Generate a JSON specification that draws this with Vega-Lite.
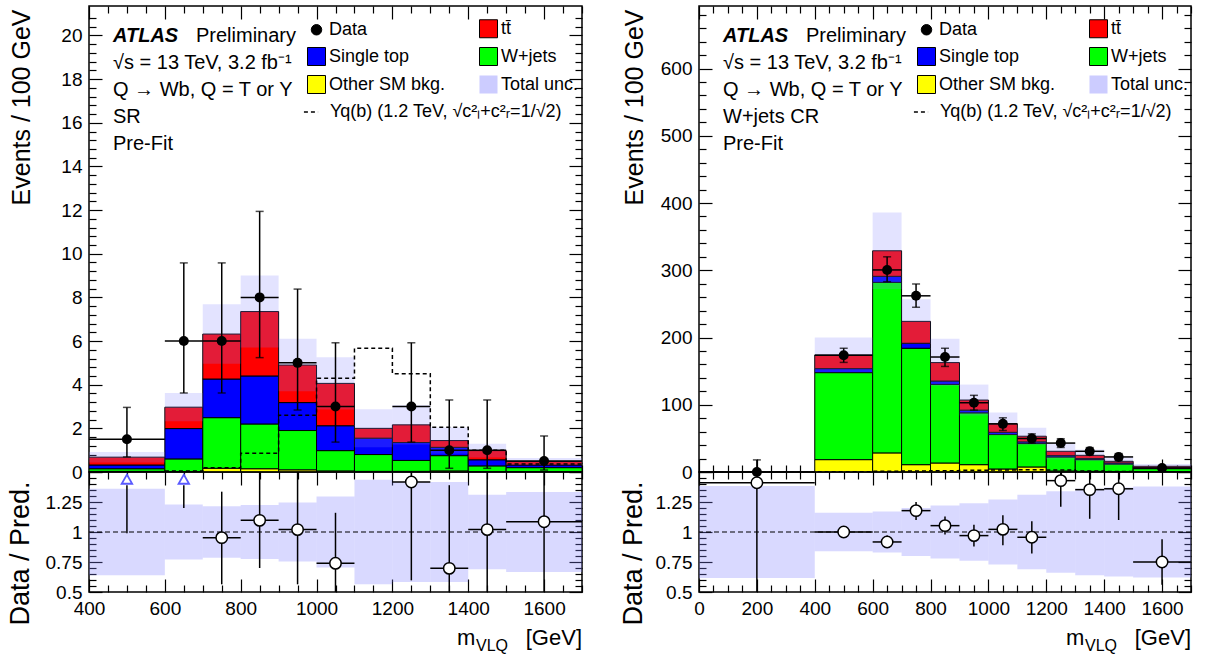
{
"$schema": "https://vega.github.io/schema/vega-lite/v6.json",
"background": "white",
"padding": {"left": 5, "right": 5, "top": 4, "bottom": 0},
"config": {
 "view": {"stroke": "black", "strokeWidth": 1.5},
 "concat": {"spacing": 0},
 "axis": {"labelFont": "Liberation Sans", "titleFont": "Liberation Sans", "labelColor": "black", "titleColor": "black", "tickColor": "black", "tickWidth": 1.2, "domain": false, "grid": false, "labelFontSize": 19, "titleFontWeight": "normal", "labelOverlap": false, "labelFlush": false, "labelBound": false},
 "legend": {"labelFont": "Liberation Sans", "labelColor": "black"},
 "text": {"font": "Liberation Sans"}
},
"datasets": {
 "sr_stack": [
  {"lo":400,"hi":600,"proc":"Other SM bkg.","k":1,"v":0.03},{"lo":400,"hi":600,"proc":"W+jets","k":2,"v":0.12},{"lo":400,"hi":600,"proc":"Single top","k":3,"v":0.17},{"lo":400,"hi":600,"proc":"tt\u0304","k":4,"v":0.36},
  {"lo":600,"hi":700,"proc":"Other SM bkg.","k":1,"v":0.02},{"lo":600,"hi":700,"proc":"W+jets","k":2,"v":0.58},{"lo":600,"hi":700,"proc":"Single top","k":3,"v":1.39},{"lo":600,"hi":700,"proc":"tt\u0304","k":4,"v":0.98},
  {"lo":700,"hi":800,"proc":"Other SM bkg.","k":1,"v":0.17},{"lo":700,"hi":800,"proc":"W+jets","k":2,"v":2.32},{"lo":700,"hi":800,"proc":"Single top","k":3,"v":1.77},{"lo":700,"hi":800,"proc":"tt\u0304","k":4,"v":2.06},
  {"lo":800,"hi":900,"proc":"Other SM bkg.","k":1,"v":0.15},{"lo":800,"hi":900,"proc":"W+jets","k":2,"v":2.05},{"lo":800,"hi":900,"proc":"Single top","k":3,"v":2.2},{"lo":800,"hi":900,"proc":"tt\u0304","k":4,"v":2.95},
  {"lo":900,"hi":1000,"proc":"Other SM bkg.","k":1,"v":0.1},{"lo":900,"hi":1000,"proc":"W+jets","k":2,"v":1.8},{"lo":900,"hi":1000,"proc":"Single top","k":3,"v":1.28},{"lo":900,"hi":1000,"proc":"tt\u0304","k":4,"v":1.72},
  {"lo":1000,"hi":1100,"proc":"Other SM bkg.","k":1,"v":0.05},{"lo":1000,"hi":1100,"proc":"W+jets","k":2,"v":0.93},{"lo":1000,"hi":1100,"proc":"Single top","k":3,"v":1.14},{"lo":1000,"hi":1100,"proc":"tt\u0304","k":4,"v":1.94},
  {"lo":1100,"hi":1200,"proc":"Other SM bkg.","k":1,"v":0.03},{"lo":1100,"hi":1200,"proc":"W+jets","k":2,"v":0.77},{"lo":1100,"hi":1200,"proc":"Single top","k":3,"v":0.75},{"lo":1100,"hi":1200,"proc":"tt\u0304","k":4,"v":0.45},
  {"lo":1200,"hi":1300,"proc":"Other SM bkg.","k":1,"v":0.03},{"lo":1200,"hi":1300,"proc":"W+jets","k":2,"v":0.5},{"lo":1200,"hi":1300,"proc":"Single top","k":3,"v":0.82},{"lo":1200,"hi":1300,"proc":"tt\u0304","k":4,"v":0.81},
  {"lo":1300,"hi":1400,"proc":"Other SM bkg.","k":1,"v":0.05},{"lo":1300,"hi":1400,"proc":"W+jets","k":2,"v":0.7},{"lo":1300,"hi":1400,"proc":"Single top","k":3,"v":0.38},{"lo":1300,"hi":1400,"proc":"tt\u0304","k":4,"v":0.31},
  {"lo":1400,"hi":1500,"proc":"Other SM bkg.","k":1,"v":0.02},{"lo":1400,"hi":1500,"proc":"W+jets","k":2,"v":0.26},{"lo":1400,"hi":1500,"proc":"Single top","k":3,"v":0.28},{"lo":1400,"hi":1500,"proc":"tt\u0304","k":4,"v":0.42},
  {"lo":1500,"hi":1700,"proc":"Other SM bkg.","k":1,"v":0.02},{"lo":1500,"hi":1700,"proc":"W+jets","k":2,"v":0.18},{"lo":1500,"hi":1700,"proc":"Single top","k":3,"v":0.12},{"lo":1500,"hi":1700,"proc":"tt\u0304","k":4,"v":0.16}
 ],
 "sr_band": [
  {"lo":400,"hi":600,"dn":0.44,"up":0.92},{"lo":600,"hi":700,"dn":2.32,"up":3.62},{"lo":700,"hi":800,"dn":4.96,"up":7.68},{"lo":800,"hi":900,"dn":5.7,"up":9.0},{"lo":900,"hi":1000,"dn":3.7,"up":6.1},{"lo":1000,"hi":1100,"dn":2.86,"up":5.26},{"lo":1100,"hi":1200,"dn":1.13,"up":2.87},{"lo":1200,"hi":1300,"dn":1.26,"up":3.06},{"lo":1300,"hi":1400,"dn":0.84,"up":2.04},{"lo":1400,"hi":1500,"dn":0.66,"up":1.3},{"lo":1500,"hi":1700,"dn":0.32,"up":0.64}
 ],
 "sr_sig": [
  {"lo":400,"v":0,"s":"Yq(b) (1.2 TeV, √c²ₗ+c²ᵣ=1/√2)"},{"lo":600,"v":0.05,"s":"Yq(b) (1.2 TeV, √c²ₗ+c²ᵣ=1/√2)"},{"lo":700,"v":0.2,"s":"Yq(b) (1.2 TeV, √c²ₗ+c²ᵣ=1/√2)"},{"lo":800,"v":0.86,"s":"Yq(b) (1.2 TeV, √c²ₗ+c²ᵣ=1/√2)"},{"lo":900,"v":2.6,"s":"Yq(b) (1.2 TeV, √c²ₗ+c²ᵣ=1/√2)"},{"lo":1000,"v":4.3,"s":"Yq(b) (1.2 TeV, √c²ₗ+c²ᵣ=1/√2)"},{"lo":1100,"v":5.67,"s":"Yq(b) (1.2 TeV, √c²ₗ+c²ᵣ=1/√2)"},{"lo":1200,"v":4.5,"s":"Yq(b) (1.2 TeV, √c²ₗ+c²ᵣ=1/√2)"},{"lo":1300,"v":2.05,"s":"Yq(b) (1.2 TeV, √c²ₗ+c²ᵣ=1/√2)"},{"lo":1400,"v":1.0,"s":"Yq(b) (1.2 TeV, √c²ₗ+c²ᵣ=1/√2)"},{"lo":1500,"v":0.37,"s":"Yq(b) (1.2 TeV, √c²ₗ+c²ᵣ=1/√2)"},{"lo":1700,"v":0.37,"s":"Yq(b) (1.2 TeV, √c²ₗ+c²ᵣ=1/√2)"}
 ],
 "sr_data": [
  {"x":500,"lo":400,"hi":600,"y":1.5,"elo":0.69,"ehi":2.96},{"x":650,"lo":600,"hi":700,"y":6,"elo":3.62,"ehi":9.58},{"x":750,"lo":700,"hi":800,"y":6,"elo":3.62,"ehi":9.58},{"x":850,"lo":800,"hi":900,"y":8,"elo":5.24,"ehi":11.94},{"x":950,"lo":900,"hi":1000,"y":5,"elo":2.84,"ehi":8.38},{"x":1050,"lo":1000,"hi":1100,"y":3,"elo":1.37,"ehi":5.92},{"x":1250,"lo":1200,"hi":1300,"y":3,"elo":1.37,"ehi":5.92},{"x":1350,"lo":1300,"hi":1400,"y":1,"elo":0.17,"ehi":3.3},{"x":1450,"lo":1400,"hi":1500,"y":1,"elo":0.17,"ehi":3.3},{"x":1600,"lo":1500,"hi":1700,"y":0.5,"elo":0.09,"ehi":1.65}
 ],
 "sr_ratio": [
  {"x":750,"lo":700,"hi":800,"r":0.953,"rlo":0.564,"rhi":1.336},{"x":850,"lo":800,"hi":900,"r":1.097,"rlo":0.7,"rhi":1.62},{"x":950,"lo":900,"hi":1000,"r":1.02,"rlo":0.564,"rhi":1.72},{"x":1050,"lo":1000,"hi":1100,"r":0.739,"rlo":0.34,"rhi":1.16},{"x":1250,"lo":1200,"hi":1300,"r":1.417,"rlo":0.597,"rhi":2.7},{"x":1350,"lo":1300,"hi":1400,"r":0.697,"rlo":0.12,"rhi":1.39},{"x":1450,"lo":1400,"hi":1500,"r":1.02,"rlo":0.17,"rhi":3.3},{"x":1600,"lo":1500,"hi":1700,"r":1.086,"rlo":0.18,"rhi":3.4}
 ],
 "sr_arrow": [{"x":500,"lo":0.99},{"x":650,"lo":1.2}],
 "sr_rband": [
  {"lo":400,"hi":600,"dn":0.64,"up":1.36},{"lo":600,"hi":700,"dn":0.77,"up":1.23},{"lo":700,"hi":800,"dn":0.785,"up":1.215},{"lo":800,"hi":900,"dn":0.775,"up":1.225},{"lo":900,"hi":1000,"dn":0.755,"up":1.245},{"lo":1000,"hi":1100,"dn":0.705,"up":1.295},{"lo":1100,"hi":1200,"dn":0.565,"up":1.435},{"lo":1200,"hi":1300,"dn":0.583,"up":1.417},{"lo":1300,"hi":1400,"dn":0.583,"up":1.417},{"lo":1400,"hi":1500,"dn":0.69,"up":1.31},{"lo":1500,"hi":1700,"dn":0.667,"up":1.333}
 ],
 "cr_stack": [
  {"lo":400,"hi":600,"proc":"Other SM bkg.","k":1,"v":18.4},{"lo":400,"hi":600,"proc":"W+jets","k":2,"v":129.4},{"lo":400,"hi":600,"proc":"Single top","k":3,"v":5.9},{"lo":400,"hi":600,"proc":"tt\u0304","k":4,"v":20.3},
  {"lo":600,"hi":700,"proc":"Other SM bkg.","k":1,"v":28.4},{"lo":600,"hi":700,"proc":"W+jets","k":2,"v":253.6},{"lo":600,"hi":700,"proc":"Single top","k":3,"v":9},{"lo":600,"hi":700,"proc":"tt\u0304","k":4,"v":38},
  {"lo":700,"hi":800,"proc":"Other SM bkg.","k":1,"v":10.9},{"lo":700,"hi":800,"proc":"W+jets","k":2,"v":173.1},{"lo":700,"hi":800,"proc":"Single top","k":3,"v":7.5},{"lo":700,"hi":800,"proc":"tt\u0304","k":4,"v":32.5},
  {"lo":800,"hi":900,"proc":"Other SM bkg.","k":1,"v":13.4},{"lo":800,"hi":900,"proc":"W+jets","k":2,"v":116.9},{"lo":800,"hi":900,"proc":"Single top","k":3,"v":5},{"lo":800,"hi":900,"proc":"tt\u0304","k":4,"v":27.4},
  {"lo":900,"hi":1000,"proc":"Other SM bkg.","k":1,"v":10.9},{"lo":900,"hi":1000,"proc":"W+jets","k":2,"v":77.1},{"lo":900,"hi":1000,"proc":"Single top","k":3,"v":4},{"lo":900,"hi":1000,"proc":"tt\u0304","k":4,"v":15},
  {"lo":1000,"hi":1100,"proc":"Other SM bkg.","k":1,"v":4.5},{"lo":1000,"hi":1100,"proc":"W+jets","k":2,"v":51.2},{"lo":1000,"hi":1100,"proc":"Single top","k":3,"v":3.3},{"lo":1000,"hi":1100,"proc":"tt\u0304","k":4,"v":12.6},
  {"lo":1100,"hi":1200,"proc":"Other SM bkg.","k":1,"v":7.5},{"lo":1100,"hi":1200,"proc":"W+jets","k":2,"v":34.8},{"lo":1100,"hi":1200,"proc":"Single top","k":3,"v":2.5},{"lo":1100,"hi":1200,"proc":"tt\u0304","k":4,"v":8.4},
  {"lo":1200,"hi":1300,"proc":"Other SM bkg.","k":1,"v":1.5},{"lo":1200,"hi":1300,"proc":"W+jets","k":2,"v":20.9},{"lo":1200,"hi":1300,"proc":"Single top","k":3,"v":2},{"lo":1200,"hi":1300,"proc":"tt\u0304","k":4,"v":6.4},
  {"lo":1300,"hi":1400,"proc":"Other SM bkg.","k":1,"v":1},{"lo":1300,"hi":1400,"proc":"W+jets","k":2,"v":17.4},{"lo":1300,"hi":1400,"proc":"Single top","k":3,"v":1.5},{"lo":1300,"hi":1400,"proc":"tt\u0304","k":4,"v":4.9},
  {"lo":1400,"hi":1500,"proc":"Other SM bkg.","k":1,"v":0.8},{"lo":1400,"hi":1500,"proc":"W+jets","k":2,"v":11.1},{"lo":1400,"hi":1500,"proc":"Single top","k":3,"v":1.5},{"lo":1400,"hi":1500,"proc":"tt\u0304","k":4,"v":2.5},
  {"lo":1500,"hi":1700,"proc":"Other SM bkg.","k":1,"v":0.5},{"lo":1500,"hi":1700,"proc":"W+jets","k":2,"v":4.5},{"lo":1500,"hi":1700,"proc":"Single top","k":3,"v":1},{"lo":1500,"hi":1700,"proc":"tt\u0304","k":4,"v":2.5}
 ],
 "cr_band": [
  {"lo":400,"hi":600,"dn":148,"up":200},{"lo":600,"hi":700,"dn":272,"up":386},{"lo":700,"hi":800,"dn":191,"up":257},{"lo":800,"hi":900,"dn":128,"up":198},{"lo":900,"hi":1000,"dn":84,"up":130},{"lo":1000,"hi":1100,"dn":54.6,"up":88.6},{"lo":1100,"hi":1200,"dn":40.7,"up":65.7},{"lo":1200,"hi":1300,"dn":18.8,"up":42.8},{"lo":1300,"hi":1400,"dn":16.3,"up":33.3},{"lo":1400,"hi":1500,"dn":9.9,"up":21.9},{"lo":1500,"hi":1700,"dn":5.2,"up":11.8}
 ],
 "cr_sig": [
  {"lo":0,"v":0,"s":"Yq(b) (1.2 TeV, √c²ₗ+c²ᵣ=1/√2)"},{"lo":400,"v":0.5,"s":"Yq(b) (1.2 TeV, √c²ₗ+c²ᵣ=1/√2)"},{"lo":600,"v":1,"s":"Yq(b) (1.2 TeV, √c²ₗ+c²ᵣ=1/√2)"},{"lo":700,"v":1.5,"s":"Yq(b) (1.2 TeV, √c²ₗ+c²ᵣ=1/√2)"},{"lo":800,"v":2,"s":"Yq(b) (1.2 TeV, √c²ₗ+c²ᵣ=1/√2)"},{"lo":900,"v":2.5,"s":"Yq(b) (1.2 TeV, √c²ₗ+c²ᵣ=1/√2)"},{"lo":1000,"v":3,"s":"Yq(b) (1.2 TeV, √c²ₗ+c²ᵣ=1/√2)"},{"lo":1100,"v":3.5,"s":"Yq(b) (1.2 TeV, √c²ₗ+c²ᵣ=1/√2)"},{"lo":1200,"v":3,"s":"Yq(b) (1.2 TeV, √c²ₗ+c²ᵣ=1/√2)"},{"lo":1300,"v":1.5,"s":"Yq(b) (1.2 TeV, √c²ₗ+c²ᵣ=1/√2)"},{"lo":1400,"v":0.8,"s":"Yq(b) (1.2 TeV, √c²ₗ+c²ᵣ=1/√2)"},{"lo":1500,"v":0.3,"s":"Yq(b) (1.2 TeV, √c²ₗ+c²ᵣ=1/√2)"},{"lo":1700,"v":0.3,"s":"Yq(b) (1.2 TeV, √c²ₗ+c²ᵣ=1/√2)"}
 ],
 "cr_data": [
  {"x":200,"lo":0,"hi":400,"y":0,"elo":0,"ehi":18},{"x":500,"lo":400,"hi":600,"y":173.6,"elo":163,"ehi":184},{"x":650,"lo":600,"hi":700,"y":300.5,"elo":283,"ehi":320},{"x":750,"lo":700,"hi":800,"y":262,"elo":245,"ehi":279.6},{"x":850,"lo":800,"hi":900,"y":171,"elo":157,"ehi":184},{"x":950,"lo":900,"hi":1000,"y":103,"elo":92,"ehi":114},{"x":1050,"lo":1000,"hi":1100,"y":71.6,"elo":61.7,"ehi":80.6},{"x":1150,"lo":1100,"hi":1200,"y":49.8,"elo":43,"ehi":56.7},{"x":1250,"lo":1200,"hi":1300,"y":43,"elo":36.5,"ehi":49.5},{"x":1350,"lo":1300,"hi":1400,"y":30.8,"elo":25.3,"ehi":36.3},{"x":1450,"lo":1400,"hi":1500,"y":22.4,"elo":17.4,"ehi":27.4},{"x":1600,"lo":1500,"hi":1700,"y":6,"elo":4.3,"ehi":7.8}
 ],
 "cr_ratio": [
  {"x":200,"lo":0,"hi":400,"r":1.41,"rlo":0.3,"rhi":2.0},{"x":500,"lo":400,"hi":600,"r":1.0,"rlo":0.97,"rhi":1.03},{"x":650,"lo":600,"hi":700,"r":0.917,"rlo":0.87,"rhi":0.97},{"x":750,"lo":700,"hi":800,"r":1.178,"rlo":1.1,"rhi":1.25},{"x":850,"lo":800,"hi":900,"r":1.053,"rlo":0.98,"rhi":1.13},{"x":950,"lo":900,"hi":1000,"r":0.97,"rlo":0.88,"rhi":1.06},{"x":1050,"lo":1000,"hi":1100,"r":1.022,"rlo":0.89,"rhi":1.14},{"x":1150,"lo":1100,"hi":1200,"r":0.956,"rlo":0.82,"rhi":1.09},{"x":1250,"lo":1200,"hi":1300,"r":1.428,"rlo":1.21,"rhi":1.65},{"x":1350,"lo":1300,"hi":1400,"r":1.353,"rlo":1.11,"rhi":1.6},{"x":1450,"lo":1400,"hi":1500,"r":1.36,"rlo":1.1,"rhi":1.6},{"x":1600,"lo":1500,"hi":1700,"r":0.75,"rlo":0.56,"rhi":0.94}
 ],
 "cr_rband": [
  {"lo":0,"hi":400,"dn":0.617,"up":1.383},{"lo":400,"hi":600,"dn":0.84,"up":1.16},{"lo":600,"hi":700,"dn":0.83,"up":1.17},{"lo":700,"hi":800,"dn":0.8,"up":1.2},{"lo":800,"hi":900,"dn":0.78,"up":1.22},{"lo":900,"hi":1000,"dn":0.76,"up":1.24},{"lo":1000,"hi":1100,"dn":0.73,"up":1.27},{"lo":1100,"hi":1200,"dn":0.69,"up":1.31},{"lo":1200,"hi":1300,"dn":0.66,"up":1.34},{"lo":1300,"hi":1400,"dn":0.64,"up":1.36},{"lo":1400,"hi":1500,"dn":0.63,"up":1.37},{"lo":1500,"hi":1700,"dn":0.62,"up":1.38}
 ]
},
"resolve": {"scale": {"x": "independent", "y": "independent", "fill": "independent", "strokeDash": "independent"}},
"spacing": 34,
"hconcat": [
 {
  "spacing": 0,
  "bounds": "flush",
  "resolve": {"scale": {"x": "independent", "y": "independent", "fill": "independent", "strokeDash": "independent"}},
  "vconcat": [
   {
    "width": 493, "height": 466,
    "resolve": {"axis": {"x": "independent", "y": "independent"}},
    "layer": [
     {
      "data": {"name": "sr_stack"},
      "transform": [{"stack": "v", "groupby": ["lo"], "sort": [{"field": "k", "order": "ascending"}], "as": ["y0", "y1"]}],
      "mark": {"type": "rect", "stroke": "black", "strokeWidth": 1, "clip": true},
      "encoding": {
       "x": {"field": "lo", "type": "quantitative", "scale": {"domain": [400, 1700], "nice": false, "zero": false},
             "axis": {"orient": "bottom", "values": [400,450,500,550,600,650,700,750,800,850,900,950,1000,1050,1100,1150,1200,1250,1300,1350,1400,1450,1500,1550,1600,1650,1700], "labels": false, "title": null, "minExtent": 0, "maxExtent": 0, "tickSize": {"condition": {"test": "datum.value % 200 === 0", "value": -13}, "value": -7}}},
       "x2": {"field": "hi"},
       "y": {"field": "y0", "type": "quantitative", "scale": {"domain": [0, 21.35], "nice": false, "zero": false},
             "axis": {"orient": "left", "values": [0,0.4,0.8,1.2,1.6,2,2.4,2.8,3.2,3.6,4,4.4,4.8,5.2,5.6,6,6.4,6.8,7.2,7.6,8,8.4,8.8,9.2,9.6,10,10.4,10.8,11.2,11.6,12,12.4,12.8,13.2,13.6,14,14.4,14.8,15.2,15.6,16,16.4,16.8,17.2,17.6,18,18.4,18.8,19.2,19.6,20,20.4,20.8],
                      "labelExpr": "abs(datum.value/2 - round(datum.value/2)) < 0.001 ? '' + round(datum.value) : ''", "labelPadding": 20,
                      "title": "Events / 100 GeV", "titleFontSize": 25, "titleAnchor": "end", "titleX": -55, "titleY": 3,
                      "tickSize": {"condition": {"test": "abs(datum.value/2 - round(datum.value/2)) < 0.001", "value": -13}, "value": -7}}},
       "y2": {"field": "y1"},
       "fill": {"field": "proc", "type": "nominal",
                "scale": {"domain": ["Data", "tt\u0304", "Single top", "W+jets", "Other SM bkg.", "Total unc."], "range": ["#000000", "#ff0000", "#0000ff", "#00ff00", "#ffff00", "#8080ff"]},
                "legend": {"orient": "none", "legendX": 218, "legendY": 13, "columns": 2, "direction": "horizontal", "title": null, "padding": 0, "labelFontSize": 18, "labelOffset": 3, "symbolSize": 324, "symbolType": "square", "symbolStrokeColor": "black", "symbolStrokeWidth": 1, "columnPadding": 31, "rowPadding": 5, "symbolOpacity": 1,
                           "encode": {"symbols": {"update": {
                             "shape": {"signal": "datum.value === 'Data' ? 'circle' : 'square'"},
                             "size": {"signal": "datum.value === 'Data' ? 110 : 324"},
                             "stroke": {"signal": "datum.value === 'Total unc.' ? 'transparent' : 'black'"},
                             "fillOpacity": {"signal": "datum.value === 'Total unc.' ? 0.4 : 1"}}}}}}
      }
     },
     {
      "data": {"name": "sr_band"},
      "mark": {"type": "rect", "fill": "#8080ff", "fillOpacity": 0.22, "clip": true},
      "encoding": {
       "x": {"field": "lo", "type": "quantitative", "axis": {"orient": "top", "values": [400,450,500,550,600,650,700,750,800,850,900,950,1000,1050,1100,1150,1200,1250,1300,1350,1400,1450,1500,1550,1600,1650,1700], "labels": false, "title": null, "minExtent": 0, "maxExtent": 0, "tickSize": {"condition": {"test": "datum.value % 200 === 0", "value": -13}, "value": -7}}},
       "x2": {"field": "hi"},
       "y": {"field": "dn", "type": "quantitative", "axis": {"orient": "right", "values": [0,0.4,0.8,1.2,1.6,2,2.4,2.8,3.2,3.6,4,4.4,4.8,5.2,5.6,6,6.4,6.8,7.2,7.6,8,8.4,8.8,9.2,9.6,10,10.4,10.8,11.2,11.6,12,12.4,12.8,13.2,13.6,14,14.4,14.8,15.2,15.6,16,16.4,16.8,17.2,17.6,18,18.4,18.8,19.2,19.6,20,20.4,20.8], "labels": false, "title": null, "minExtent": 0, "maxExtent": 0, "tickSize": {"condition": {"test": "abs(datum.value/2 - round(datum.value/2)) < 0.001", "value": -13}, "value": -7}}},
       "y2": {"field": "up"}
      }
     },
     {
      "data": {"name": "sr_sig"},
      "mark": {"type": "line", "interpolate": "step-after", "stroke": "black", "strokeWidth": 1.5, "clip": true},
      "encoding": {
       "x": {"field": "lo", "type": "quantitative", "axis": null},
       "y": {"field": "v", "type": "quantitative", "axis": null},
       "strokeDash": {"field": "s", "type": "nominal", "scale": {"range": [[4, 3]]},
                      "legend": {"orient": "none", "legendX": 213, "legendY": 97, "title": null, "padding": 0, "labelFontSize": 18, "labelOffset": 10, "labelLimit": 1000, "symbolType": "stroke", "symbolSize": 200, "symbolStrokeColor": "black", "symbolStrokeWidth": 1.5}}
      }
     },
     {
      "data": {"name": "sr_data"},
      "mark": {"type": "rule", "stroke": "black", "strokeWidth": 1.5},
      "encoding": {"x": {"field": "x", "type": "quantitative", "axis": null}, "y": {"field": "elo", "type": "quantitative", "axis": null}, "y2": {"field": "ehi"}}
     },
     {
      "data": {"name": "sr_data"},
      "mark": {"type": "rule", "stroke": "black", "strokeWidth": 1.5},
      "encoding": {"x": {"field": "lo", "type": "quantitative", "axis": null}, "x2": {"field": "hi"}, "y": {"field": "y", "type": "quantitative", "axis": null}}
     },
     {
      "data": {"name": "sr_data"},
      "mark": {"type": "tick", "orient": "horizontal", "color": "black", "size": 8, "thickness": 1.5},
      "encoding": {"x": {"field": "x", "type": "quantitative", "axis": null}, "y": {"field": "ehi", "type": "quantitative", "axis": null}}
     },
     {
      "data": {"name": "sr_data"},
      "mark": {"type": "tick", "orient": "horizontal", "color": "black", "size": 8, "thickness": 1.5},
      "encoding": {"x": {"field": "x", "type": "quantitative", "axis": null}, "y": {"field": "elo", "type": "quantitative", "axis": null}}
     },
     {
      "data": {"name": "sr_data"},
      "mark": {"type": "point", "shape": "circle", "filled": true, "color": "black", "size": 100, "opacity": 1},
      "encoding": {"x": {"field": "x", "type": "quantitative", "axis": null}, "y": {"field": "y", "type": "quantitative", "axis": null}}
     },
     {"data": {"values": [{}]}, "mark": {"type": "text", "text": "ATLAS", "x": 24, "y": 36, "align": "left", "baseline": "alphabetic", "fontSize": 20, "fontWeight": "bold", "fontStyle": "italic", "fill": "black"}, "encoding": {}},
     {"data": {"values": [{}]}, "mark": {"type": "text", "text": "Preliminary", "x": 107, "y": 36, "align": "left", "baseline": "alphabetic", "fontSize": 20, "fill": "black"}, "encoding": {}},
     {"data": {"values": [{}]}, "mark": {"type": "text", "text": ["√s = 13 TeV, 3.2 fb⁻¹", "Q → Wb, Q = T or Y", "SR", "Pre-Fit"], "lineHeight": 27, "x": 24, "y": 63, "align": "left", "baseline": "alphabetic", "fontSize": 20, "fill": "black"}, "encoding": {}}
    ]
   },
   {
    "width": 493, "height": 120,
    "resolve": {"axis": {"x": "independent", "y": "independent"}},
    "layer": [
     {
      "data": {"name": "sr_rband"},
      "mark": {"type": "rect", "fill": "#8080ff", "fillOpacity": 0.3, "clip": true},
      "encoding": {
       "x": {"field": "lo", "type": "quantitative", "scale": {"domain": [400, 1700], "nice": false, "zero": false},
             "axis": {"orient": "bottom", "values": [400,450,500,550,600,650,700,750,800,850,900,950,1000,1050,1100,1150,1200,1250,1300,1350,1400,1450,1500,1550,1600,1650,1700], "labelExpr": "datum.value % 200 === 0 ? '' + datum.value : ''", "labelPadding": 20, "title": null, "tickSize": {"condition": {"test": "datum.value % 200 === 0", "value": -13}, "value": -7}}},
       "x2": {"field": "hi"},
       "y": {"field": "dn", "type": "quantitative", "scale": {"domain": [0.5, 1.5], "nice": false, "zero": false},
             "axis": {"orient": "left", "values": [0.5,0.55,0.6,0.65,0.7,0.75,0.8,0.85,0.9,0.95,1,1.05,1.1,1.15,1.2,1.25,1.3,1.35,1.4,1.45,1.5], "labelExpr": "abs(datum.value*4 - round(datum.value*4)) < 0.001 && datum.value < 1.4 ? '' + datum.value : ''", "labelPadding": 20,
                      "title": "Data / Pred.", "titleFontSize": 27, "titleX": -55, "titleY": 81, "titleAnchor": "middle",
                      "tickSize": {"condition": {"test": "abs(datum.value*4 - round(datum.value*4)) < 0.001", "value": -13}, "value": -7}}},
       "y2": {"field": "up"}
      }
     },
     {
      "data": {"values": [{}]},
      "mark": {"type": "rule", "stroke": "black", "strokeWidth": 1.2, "strokeDash": [5, 3]},
      "encoding": {"y": {"datum": 1, "type": "quantitative", "axis": {"orient": "right", "values": [0.5,0.55,0.6,0.65,0.7,0.75,0.8,0.85,0.9,0.95,1,1.05,1.1,1.15,1.2,1.25,1.3,1.35,1.4,1.45,1.5], "labels": false, "title": null, "minExtent": 0, "maxExtent": 0, "tickSize": {"condition": {"test": "abs(datum.value*4 - round(datum.value*4)) < 0.001", "value": -13}, "value": -7}}}}
     },
     {
      "data": {"name": "sr_ratio"},
      "mark": {"type": "rule", "stroke": "black", "strokeWidth": 1.5, "clip": true},
      "encoding": {"x": {"field": "x", "type": "quantitative", "axis": {"orient": "top", "values": [400,450,500,550,600,650,700,750,800,850,900,950,1000,1050,1100,1150,1200,1250,1300,1350,1400,1450,1500,1550,1600,1650,1700], "labels": false, "title": null, "minExtent": 0, "maxExtent": 0, "tickSize": {"condition": {"test": "datum.value % 200 === 0", "value": -13}, "value": -7}}}, "y": {"field": "rlo", "type": "quantitative", "axis": null}, "y2": {"field": "rhi"}}
     },
     {
      "data": {"name": "sr_ratio"},
      "mark": {"type": "rule", "stroke": "black", "strokeWidth": 1.5, "clip": true},
      "encoding": {"x": {"field": "lo", "type": "quantitative", "axis": null}, "x2": {"field": "hi"}, "y": {"field": "r", "type": "quantitative", "axis": null}}
     },
     {
      "data": {"name": "sr_arrow"},
      "mark": {"type": "rule", "stroke": "black", "strokeWidth": 1.5, "clip": true},
      "encoding": {"x": {"field": "x", "type": "quantitative", "axis": null}, "y": {"field": "lo", "type": "quantitative", "axis": null}, "y2": {"datum": 1.39}}
     },
     {
      "data": {"name": "sr_arrow"},
      "mark": {"type": "point", "shape": "triangle-up", "filled": false, "stroke": "#5a5aff", "fill": "white", "strokeWidth": 1.8, "size": 110, "opacity": 1},
      "encoding": {"x": {"field": "x", "type": "quantitative", "axis": null}, "y": {"datum": 1.44, "type": "quantitative", "axis": null}}
     },
     {
      "data": {"name": "sr_ratio"},
      "mark": {"type": "point", "shape": "circle", "filled": false, "fill": "white", "stroke": "black", "strokeWidth": 1.5, "size": 130, "opacity": 1, "fillOpacity": 1, "clip": true},
      "encoding": {"x": {"field": "x", "type": "quantitative", "axis": null}, "y": {"field": "r", "type": "quantitative", "axis": null}}
     },
     {"data": {"values": [{}]}, "mark": {"type": "text", "text": "m", "x": 368, "y": 173, "align": "left", "baseline": "alphabetic", "fontSize": 22, "fill": "black"}, "encoding": {}},
     {"data": {"values": [{}]}, "mark": {"type": "text", "text": "VLQ", "x": 387, "y": 179, "align": "left", "baseline": "alphabetic", "fontSize": 16, "fill": "black"}, "encoding": {}},
     {"data": {"values": [{}]}, "mark": {"type": "text", "text": "[GeV]", "x": 493, "y": 173, "align": "right", "baseline": "alphabetic", "fontSize": 22, "fill": "black"}, "encoding": {}}
    ]
   }
  ]
 },
 {
  "spacing": 0,
  "bounds": "flush",
  "resolve": {"scale": {"x": "independent", "y": "independent", "fill": "independent", "strokeDash": "independent"}},
  "vconcat": [
   {
    "width": 492, "height": 466,
    "resolve": {"axis": {"x": "independent", "y": "independent"}},
    "layer": [
     {
      "data": {"name": "cr_stack"},
      "transform": [{"stack": "v", "groupby": ["lo"], "sort": [{"field": "k", "order": "ascending"}], "as": ["y0", "y1"]}],
      "mark": {"type": "rect", "stroke": "black", "strokeWidth": 1, "clip": true},
      "encoding": {
       "x": {"field": "lo", "type": "quantitative", "scale": {"domain": [0, 1700], "nice": false, "zero": false},
             "axis": {"orient": "bottom", "values": [0,50,100,150,200,250,300,350,400,450,500,550,600,650,700,750,800,850,900,950,1000,1050,1100,1150,1200,1250,1300,1350,1400,1450,1500,1550,1600,1650,1700], "labels": false, "title": null, "minExtent": 0, "maxExtent": 0, "tickSize": {"condition": {"test": "datum.value % 200 === 0", "value": -13}, "value": -7}}},
       "x2": {"field": "hi"},
       "y": {"field": "y0", "type": "quantitative", "scale": {"domain": [0, 693], "nice": false, "zero": false},
             "axis": {"orient": "left", "values": [0,20,40,60,80,100,120,140,160,180,200,220,240,260,280,300,320,340,360,380,400,420,440,460,480,500,520,540,560,580,600,620,640,660,680],
                      "labelExpr": "datum.value % 100 === 0 ? '' + datum.value : ''", "labelPadding": 20,
                      "title": "Events / 100 GeV", "titleFontSize": 25, "titleAnchor": "end", "titleX": -52, "titleY": 3,
                      "tickSize": {"condition": {"test": "datum.value % 100 === 0", "value": -13}, "value": -7}}},
       "y2": {"field": "y1"},
       "fill": {"field": "proc", "type": "nominal",
                "scale": {"domain": ["Data", "tt\u0304", "Single top", "W+jets", "Other SM bkg.", "Total unc."], "range": ["#000000", "#ff0000", "#0000ff", "#00ff00", "#ffff00", "#8080ff"]},
                "legend": {"orient": "none", "legendX": 218, "legendY": 13, "columns": 2, "direction": "horizontal", "title": null, "padding": 0, "labelFontSize": 18, "labelOffset": 3, "symbolSize": 324, "symbolType": "square", "symbolStrokeColor": "black", "symbolStrokeWidth": 1, "columnPadding": 31, "rowPadding": 5, "symbolOpacity": 1,
                           "encode": {"symbols": {"update": {
                             "shape": {"signal": "datum.value === 'Data' ? 'circle' : 'square'"},
                             "size": {"signal": "datum.value === 'Data' ? 110 : 324"},
                             "stroke": {"signal": "datum.value === 'Total unc.' ? 'transparent' : 'black'"},
                             "fillOpacity": {"signal": "datum.value === 'Total unc.' ? 0.4 : 1"}}}}}}
      }
     },
     {
      "data": {"name": "cr_band"},
      "mark": {"type": "rect", "fill": "#8080ff", "fillOpacity": 0.22, "clip": true},
      "encoding": {
       "x": {"field": "lo", "type": "quantitative", "axis": {"orient": "top", "values": [0,50,100,150,200,250,300,350,400,450,500,550,600,650,700,750,800,850,900,950,1000,1050,1100,1150,1200,1250,1300,1350,1400,1450,1500,1550,1600,1650,1700], "labels": false, "title": null, "minExtent": 0, "maxExtent": 0, "tickSize": {"condition": {"test": "datum.value % 200 === 0", "value": -13}, "value": -7}}},
       "x2": {"field": "hi"},
       "y": {"field": "dn", "type": "quantitative", "axis": {"orient": "right", "values": [0,20,40,60,80,100,120,140,160,180,200,220,240,260,280,300,320,340,360,380,400,420,440,460,480,500,520,540,560,580,600,620,640,660,680], "labels": false, "title": null, "minExtent": 0, "maxExtent": 0, "tickSize": {"condition": {"test": "datum.value % 100 === 0", "value": -13}, "value": -7}}},
       "y2": {"field": "up"}
      }
     },
     {
      "data": {"name": "cr_sig"},
      "mark": {"type": "line", "interpolate": "step-after", "stroke": "black", "strokeWidth": 1.5, "clip": true},
      "encoding": {
       "x": {"field": "lo", "type": "quantitative", "axis": null},
       "y": {"field": "v", "type": "quantitative", "axis": null},
       "strokeDash": {"field": "s", "type": "nominal", "scale": {"range": [[4, 3]]},
                      "legend": {"orient": "none", "legendX": 213, "legendY": 97, "title": null, "padding": 0, "labelFontSize": 18, "labelOffset": 10, "labelLimit": 1000, "symbolType": "stroke", "symbolSize": 200, "symbolStrokeColor": "black", "symbolStrokeWidth": 1.5}}
      }
     },
     {
      "data": {"name": "cr_data"},
      "mark": {"type": "rule", "stroke": "black", "strokeWidth": 1.5},
      "encoding": {"x": {"field": "x", "type": "quantitative", "axis": null}, "y": {"field": "elo", "type": "quantitative", "axis": null}, "y2": {"field": "ehi"}}
     },
     {
      "data": {"name": "cr_data"},
      "mark": {"type": "rule", "stroke": "black", "strokeWidth": 1.5},
      "encoding": {"x": {"field": "lo", "type": "quantitative", "axis": null}, "x2": {"field": "hi"}, "y": {"field": "y", "type": "quantitative", "axis": null}}
     },
     {
      "data": {"name": "cr_data"},
      "mark": {"type": "tick", "orient": "horizontal", "color": "black", "size": 8, "thickness": 1.5},
      "encoding": {"x": {"field": "x", "type": "quantitative", "axis": null}, "y": {"field": "ehi", "type": "quantitative", "axis": null}}
     },
     {
      "data": {"name": "cr_data"},
      "mark": {"type": "tick", "orient": "horizontal", "color": "black", "size": 8, "thickness": 1.5},
      "encoding": {"x": {"field": "x", "type": "quantitative", "axis": null}, "y": {"field": "elo", "type": "quantitative", "axis": null}}
     },
     {
      "data": {"name": "cr_data"},
      "mark": {"type": "point", "shape": "circle", "filled": true, "color": "black", "size": 100, "opacity": 1},
      "encoding": {"x": {"field": "x", "type": "quantitative", "axis": null}, "y": {"field": "y", "type": "quantitative", "axis": null}}
     },
     {"data": {"values": [{}]}, "mark": {"type": "text", "text": "ATLAS", "x": 24, "y": 36, "align": "left", "baseline": "alphabetic", "fontSize": 20, "fontWeight": "bold", "fontStyle": "italic", "fill": "black"}, "encoding": {}},
     {"data": {"values": [{}]}, "mark": {"type": "text", "text": "Preliminary", "x": 107, "y": 36, "align": "left", "baseline": "alphabetic", "fontSize": 20, "fill": "black"}, "encoding": {}},
     {"data": {"values": [{}]}, "mark": {"type": "text", "text": ["√s = 13 TeV, 3.2 fb⁻¹", "Q → Wb, Q = T or Y", "W+jets CR", "Pre-Fit"], "lineHeight": 27, "x": 24, "y": 63, "align": "left", "baseline": "alphabetic", "fontSize": 20, "fill": "black"}, "encoding": {}}
    ]
   },
   {
    "width": 492, "height": 120,
    "resolve": {"axis": {"x": "independent", "y": "independent"}},
    "layer": [
     {
      "data": {"name": "cr_rband"},
      "mark": {"type": "rect", "fill": "#8080ff", "fillOpacity": 0.3, "clip": true},
      "encoding": {
       "x": {"field": "lo", "type": "quantitative", "scale": {"domain": [0, 1700], "nice": false, "zero": false},
             "axis": {"orient": "bottom", "values": [0,50,100,150,200,250,300,350,400,450,500,550,600,650,700,750,800,850,900,950,1000,1050,1100,1150,1200,1250,1300,1350,1400,1450,1500,1550,1600,1650,1700], "labelExpr": "datum.value % 200 === 0 ? '' + datum.value : ''", "labelPadding": 20, "title": null, "tickSize": {"condition": {"test": "datum.value % 200 === 0", "value": -13}, "value": -7}}},
       "x2": {"field": "hi"},
       "y": {"field": "dn", "type": "quantitative", "scale": {"domain": [0.5, 1.5], "nice": false, "zero": false},
             "axis": {"orient": "left", "values": [0.5,0.55,0.6,0.65,0.7,0.75,0.8,0.85,0.9,0.95,1,1.05,1.1,1.15,1.2,1.25,1.3,1.35,1.4,1.45,1.5], "labelExpr": "abs(datum.value*4 - round(datum.value*4)) < 0.001 && datum.value < 1.4 ? '' + datum.value : ''", "labelPadding": 20,
                      "title": "Data / Pred.", "titleFontSize": 27, "titleX": -52, "titleY": 81, "titleAnchor": "middle",
                      "tickSize": {"condition": {"test": "abs(datum.value*4 - round(datum.value*4)) < 0.001", "value": -13}, "value": -7}}},
       "y2": {"field": "up"}
      }
     },
     {
      "data": {"values": [{}]},
      "mark": {"type": "rule", "stroke": "black", "strokeWidth": 1.2, "strokeDash": [5, 3]},
      "encoding": {"y": {"datum": 1, "type": "quantitative", "axis": {"orient": "right", "values": [0.5,0.55,0.6,0.65,0.7,0.75,0.8,0.85,0.9,0.95,1,1.05,1.1,1.15,1.2,1.25,1.3,1.35,1.4,1.45,1.5], "labels": false, "title": null, "minExtent": 0, "maxExtent": 0, "tickSize": {"condition": {"test": "abs(datum.value*4 - round(datum.value*4)) < 0.001", "value": -13}, "value": -7}}}}
     },
     {
      "data": {"name": "cr_ratio"},
      "mark": {"type": "rule", "stroke": "black", "strokeWidth": 1.5, "clip": true},
      "encoding": {"x": {"field": "x", "type": "quantitative", "axis": {"orient": "top", "values": [0,50,100,150,200,250,300,350,400,450,500,550,600,650,700,750,800,850,900,950,1000,1050,1100,1150,1200,1250,1300,1350,1400,1450,1500,1550,1600,1650,1700], "labels": false, "title": null, "minExtent": 0, "maxExtent": 0, "tickSize": {"condition": {"test": "datum.value % 200 === 0", "value": -13}, "value": -7}}}, "y": {"field": "rlo", "type": "quantitative", "axis": null}, "y2": {"field": "rhi"}}
     },
     {
      "data": {"name": "cr_ratio"},
      "mark": {"type": "rule", "stroke": "black", "strokeWidth": 1.5, "clip": true},
      "encoding": {"x": {"field": "lo", "type": "quantitative", "axis": null}, "x2": {"field": "hi"}, "y": {"field": "r", "type": "quantitative", "axis": null}}
     },
     {
      "data": {"name": "cr_ratio"},
      "mark": {"type": "point", "shape": "circle", "filled": false, "fill": "white", "stroke": "black", "strokeWidth": 1.5, "size": 130, "opacity": 1, "fillOpacity": 1, "clip": true},
      "encoding": {"x": {"field": "x", "type": "quantitative", "axis": null}, "y": {"field": "r", "type": "quantitative", "axis": null}}
     },
     {"data": {"values": [{}]}, "mark": {"type": "text", "text": "m", "x": 367, "y": 173, "align": "left", "baseline": "alphabetic", "fontSize": 22, "fill": "black"}, "encoding": {}},
     {"data": {"values": [{}]}, "mark": {"type": "text", "text": "VLQ", "x": 386, "y": 179, "align": "left", "baseline": "alphabetic", "fontSize": 16, "fill": "black"}, "encoding": {}},
     {"data": {"values": [{}]}, "mark": {"type": "text", "text": "[GeV]", "x": 492, "y": 173, "align": "right", "baseline": "alphabetic", "fontSize": 22, "fill": "black"}, "encoding": {}}
    ]
   }
  ]
 }
]
}
